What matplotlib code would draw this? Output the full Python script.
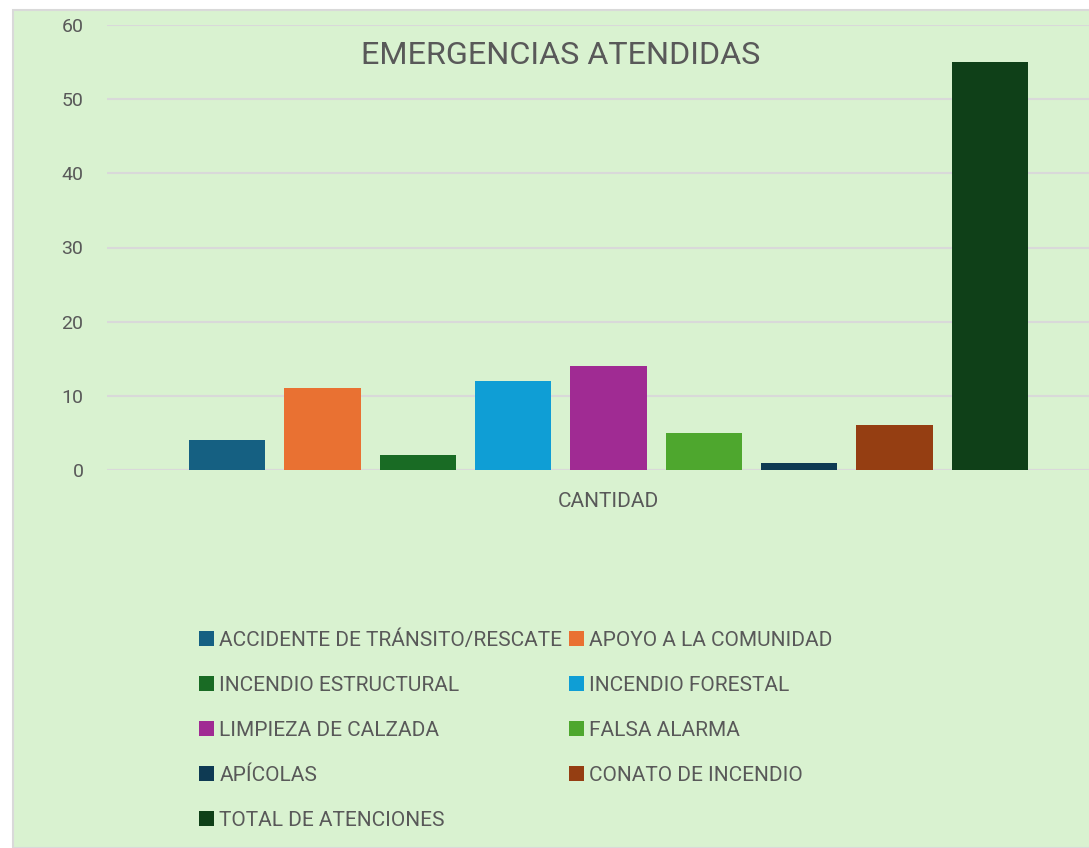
import matplotlib
matplotlib.use("Agg")
import matplotlib.pyplot as plt
from matplotlib.patches import Rectangle, Patch

# data
categorias = ["ACCIDENTE DE TRÁNSITO/RESCATE", "APOYO A LA COMUNIDAD",
              "INCENDIO ESTRUCTURAL", "INCENDIO FORESTAL",
              "LIMPIEZA DE CALZADA", "FALSA ALARMA", "APÍCOLAS",
              "CONATO DE INCENDIO", "TOTAL DE ATENCIONES"]
cantidad = [4, 11, 2, 12, 14, 5, 1, 6, 55]
colores = ["#156082", "#E97132", "#196B24", "#0F9ED5", "#A02B93",
           "#4EA72E", "#0E3A53", "#953E12", "#0F4018"]
yticks = [0, 10, 20, 30, 40, 50, 60]

plt.rcParams['font.family'] = ['Roboto', 'DejaVu Sans']
txt = "#595959"
bg = "#D9F2D0"

fig = plt.figure(figsize=(10.89, 8.48), dpi=100, facecolor="white")
# chart area (cropped on right/bottom)
fig.patches.append(Rectangle((13/1089, 0), 1.1, 1 - 10/848, transform=fig.transFigure,
                             facecolor=bg, edgecolor="#D9D9D9", linewidth=1.5, zorder=-5))

ax = fig.add_axes([107/1089, 1 - 470/848, 1003/1089, 445/848])
ax.set_zorder(2)
ax.set_facecolor("none")
x = list(range(len(cantidad)))
ax.bar(x, cantidad, width=0.8, color=colores, zorder=3)
ax.set_xlim(-1.26, 9.26)
ax.set_ylim(0, 60)
ax.set_yticks(yticks)
ax.yaxis.grid(True, color="#D9D9D9", linewidth=1.5, zorder=0)
ax.set_axisbelow(True)
for s in ax.spines.values():
    s.set_visible(False)
ax.axhline(0, color="#D9D9D9", linewidth=1.5, zorder=2)
ax.set_xticks([4])
ax.set_xticklabels(["CANTIDAD"])
ax.tick_params(axis="both", length=0, colors=txt)
ax.tick_params(axis="y", pad=17, labelsize=14)
ax.tick_params(axis="x", pad=16, labelsize=15)

fig.text(561/1089, 1 - 55/848, "EMERGENCIAS ATENDIDAS", ha="center", va="center",
         fontsize=23.3, color=txt)

# legend filled row by row
handles = [Patch(facecolor=c, edgecolor="none") for c in colores]
order = [0, 2, 4, 6, 8, 1, 3, 5, 7]
leg = fig.legend([handles[i] for i in order], [categorias[i] for i in order],
                 ncol=2, loc="upper left", bbox_to_anchor=(189/1089, 1 - 620/848),
                 frameon=False, fontsize=15, labelcolor=txt,
                 handlelength=0.7, handleheight=0.7, handletextpad=0.25,
                 labelspacing=1.25, columnspacing=0.33, borderpad=0)

fig.savefig("out.png", dpi=100, facecolor=fig.get_facecolor())
